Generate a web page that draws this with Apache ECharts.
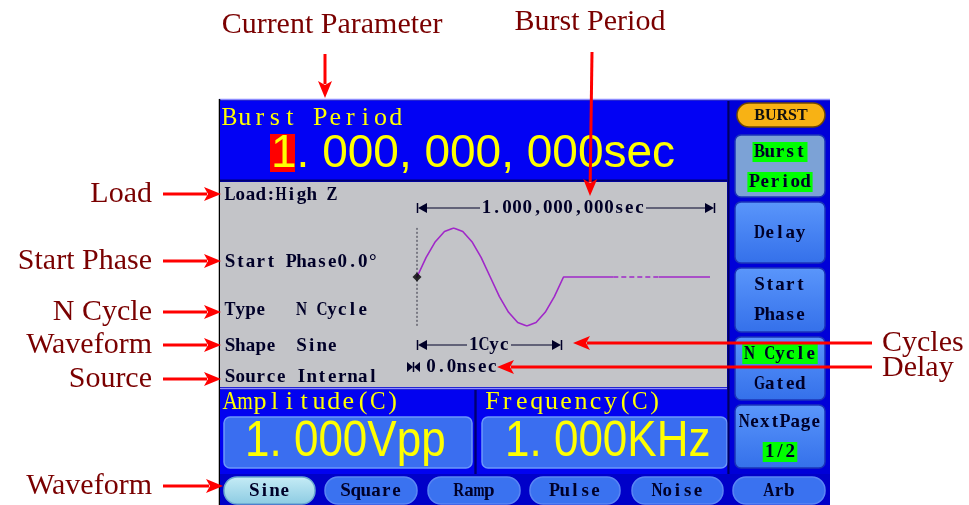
<!DOCTYPE html>
<html><head><meta charset="utf-8">
<script src="https://cdn.jsdelivr.net/npm/echarts@6/dist/echarts.min.js"></script>
<style>html,body{margin:0;padding:0;background:#fff}#c{width:969px;height:505px}</style>
</head><body><div id="c"></div><script>
// ---------- data ----------
// one burst cycle of the sine (x in cycles, y in relative amplitude)
const burstCycle = [[0,0],[0.0625,0.40],[0.125,0.72],[0.1875,0.93],[0.25,1],[0.3125,0.93],[0.375,0.72],[0.4375,0.40],
  [0.5,0],[0.5625,-0.40],[0.625,-0.72],[0.6875,-0.93],[0.75,-1],[0.8125,-0.93],[0.875,-0.72],[0.9375,-0.40],[1,0],[1.34,0]];
const idleGap = [[1.34,0],[1.65,0]];
const idleTail = [[1.65,0],[2.0,0]];
const phaseGuide = [[0,-1.16],[0,1.13]];
const startMarker = [[0,0]];

const titleTexts = ['Current Parameter','Burst Period'];
const leftCallouts = ['Load','Start Phase','N Cycle','Waveform','Source','Waveform'];
const rightCallouts = ['Cycles','Delay'];
const paramRows = ['Load:High Z','Start Phase0.0°','Type   N Cycle','Shape  Sine','Source Internal'];
const currentName = 'Burst Period';
const currentValue = '1. 000, 000, 000sec';
const periodText = '1.000,000,000sec';
const cycText = '1Cyc';
const delayText = '0.0nsec';
const ampLabel = 'Amplitude(C)', ampValue = '1. 000Vpp';
const freqLabel = 'Frequency(C)', freqValue = '1. 000KHz';
const modeLabel = 'BURST';
const sideButtons = [['Burst','Period'],['Delay'],['Start','Phase'],['N Cycle','Gated'],['NextPage','1/2']];
const waveButtons = ['Sine','Square','Ramp','Pulse','Noise','Arb'];

// ---------- drawing helpers ----------
const SERIF = '"Liberation Serif", "DejaVu Serif", serif';
const SANS = '"Liberation Sans", Arial, sans-serif';
const RED = '#ff0000', DARKRED = '#7a0000', INK = '#000028', YEL = '#ffff00';
const G = [];
const mctx = document.createElement('canvas').getContext('2d');
function rect(x,y,w,h,fill,stroke,r,lw){G.push({type:'rect',shape:{x,y,width:w,height:h,r:r||0},style:{fill,stroke:stroke||null,lineWidth:lw||1}});}
function text(x,y,t,font,fill,align,extra,scaleX){
  const st=Object.assign({text:t,font,fill,align:align||'left',verticalAlign:'middle',textAlign:align||'left',textVerticalAlign:'middle'},extra||{});
  const el={type:'text',x,y,style:st};
  if(scaleX) el.scaleX=scaleX;
  G.push(el);
}
// bitmap-like fixed pitch text: each glyph centred in its own cell
function mono(x,y,str,cw,font,fill,align,extra){
  const chars=[...str];
  const x0 = align==='center' ? x-chars.length*cw/2 : x;
  mctx.font=font;
  chars.forEach((ch,i)=>{
    if(ch===' ') return;
    const w=mctx.measureText(ch).width;
    const s=Math.min(1,(cw+0.8)/w);
    text(x0+i*cw+cw/2,y,ch,font,fill,'center',extra,s<1?s:null);
  });
  return chars.length*cw;
}
function line(x1,y1,x2,y2,stroke,lw){G.push({type:'line',shape:{x1,y1,x2,y2},style:{stroke,lineWidth:lw||1}});}
function poly(pts,fill){G.push({type:'polygon',shape:{points:pts},style:{fill}});}
function arrow(x1,y1,x2,y2){
  const dx=x2-x1,dy=y2-y1,L=Math.hypot(dx,dy),ux=dx/L,uy=dy/L,hl=17,hw=7;
  const bx=x2-ux*hl,by=y2-uy*hl;
  line(x1,y1,bx+ux*3,by+uy*3,RED,3);
  poly([[x2,y2],[bx-uy*hw,by+ux*hw],[bx+ux*4,by+uy*4],[bx+uy*hw,by-ux*hw]],RED);
}
const halo={textShadowColor:'rgba(215,205,0,0.7)',textShadowOffsetX:1,textShadowOffsetY:1,textShadowBlur:0};
const SF='bold 19px '+SERIF, CW=10.2;
const btnFill={type:'linear',x:0,y:0,x2:0,y2:1,colorStops:[{offset:0,color:'#5a96fb'},{offset:1,color:'#3470ea'}]};

// ---------- screen frame ----------
rect(219,99,611,406,'#0000c4');
line(219,99.5,830,99.5,'#8c8cff',1.5);
line(219.5,99,219.5,505,'#000000',1.5);
// top parameter panel
rect(220,101,507,79,'#0202f4');
line(220,180.5,727,180.5,'#000070',2);
mono(222,118,currentName,15.1,'26px '+SERIF,YEL);
rect(270,134,25,38,'#ff0000');
text(271,154,currentValue,'46px '+SANS,YEL);
// gray info panel
rect(220,182,507,205,'#c3c4c8');
line(220,388.5,727,388.5,'#9090ff',1.5);
const rowY=[195,262,310,346,377];
paramRows.forEach((t,i)=>mono(225,rowY[i],t,CW,SF,INK,'left',halo));
// burst period measure
const my=208;
line(417.5,203,417.5,213,INK,1.5); poly([[418,my],[427,my-5],[427,my+5]],INK);
line(427,my,480,my,INK,1); line(646,my,706,my,INK,1);
poly([[714,my],[705,my-5],[705,my+5]],INK); line(714.5,203,714.5,213,INK,1.5);
mono(563,my,periodText,CW,SF,INK,'center',halo);
// 1Cyc measure
const cy=345;
line(417.5,cy-5,417.5,cy+5,INK,1.5); poly([[418,cy],[427,cy-5],[427,cy+5]],INK);
line(427,cy,467,cy,INK,1); line(511,cy,553,cy,INK,1);
poly([[561,cy],[552,cy-5],[552,cy+5]],INK); line(561.5,cy-5,561.5,cy+5,INK,1.5);
mono(489,cy,cycText,CW,SF,INK,'center',halo);
// delay marker
const dy=367;
poly([[407,dy-5],[407,dy+5],[413,dy]],INK); line(413.5,dy-5,413.5,dy+5,INK,1.5); poly([[420,dy-5],[420,dy+5],[414,dy]],INK);
mono(426,dy,delayText,CW,SF,INK,'left',halo);
// amplitude / frequency panels
rect(220,390,254,84,'#0202f0');
rect(477,390,250,84,'#0202f0');
line(475.5,390,475.5,474,'#000070',2);
mono(223,402,ampLabel,14.75,'26px '+SERIF,YEL);
mono(485,402,freqLabel,14.75,'26px '+SERIF,YEL);
rect(224,417,248,51,'#3a6ef0','#6c98fa',6,1.5);
rect(482,417,245,51,'#3a6ef0','#6c98fa',6,1.5);
text(245,442,ampValue,'50px '+SANS,YEL,'left',null,0.88);
text(505,442,freqValue,'50px '+SANS,YEL,'left',null,0.88);
// right column
rect(729,101,101,404,'#0000d8');
line(728.5,101,728.5,475,'#000060',2);
rect(737,103,88,24,'#f8b214','#704800',12,1.5);
text(781,115.5,modeLabel,'bold 16px '+SERIF,'#101010','center');
const sb=[[135,197],[202,263],[268,332],[337,400],[405,468]];
sideButtons.forEach((lbl,i)=>{
  const [t,b]=sb[i];
  rect(735,t,90,b-t,i===0?'#7ca2d6':btnFill,'#1b34b8',6,1.5);
  const lines = lbl.length===1 ? [[lbl[0],(t+b)/2+1,false]] :
    [[lbl[0],t+17,(i===0||i===3)],[lbl[1],t+47,(i===0||i===4)]];
  lines.forEach(([s,yy,hl])=>{
    const w=[...s].length*CW;
    if(hl) rect(780-w/2-2,yy-10,w+4,20,'#00ff00');
    mono(780,yy,s,CW,SF,INK,'center');
  });
});
// waveform tabs
rect(220,474,610,31,'#0000c8');
const wb=[[224,315],[325,417],[428,520],[530,620],[632,723],[733,825]];
waveButtons.forEach((w,i)=>{
  const [l,r]=wb[i];
  const f=i===0?{type:'linear',x:0,y:0,x2:0,y2:1,colorStops:[{offset:0,color:'#c6ecf6'},{offset:1,color:'#8ccbe2'}]}:'#3a72f0';
  rect(l,477,r-l,27,f,i===0?'#6aa8d0':'#5a86f4',13,1.5);
  mono((l+r)/2,491,w,CW,SF,INK,'center');
});

// ---------- callouts ----------
text(332,25,titleTexts[0],'30px '+SERIF,DARKRED,'center');
text(590,22,titleTexts[1],'30px '+SERIF,DARKRED,'center');
arrow(325,54,325,98);
arrow(592,52,590,196);
const ly=[194,261,312,345,379,486];
leftCallouts.forEach((t,i)=>{text(152,ly[i],t,'30px '+SERIF,DARKRED,'right'); arrow(163,ly[i],i===5?223:221,ly[i]);});
const ry=[343,368];
rightCallouts.forEach((t,i)=>{text(882,ry[i],t,'30px '+SERIF,DARKRED,'left'); arrow(872,ry[i]-(i?1:0),i===0?573:497,ry[i]-(i?1:0));});

// ---------- chart ----------
const chart = echarts.init(document.getElementById('c'),null,{renderer:'canvas'});
const wave='#a028c8';
chart.setOption({
  animation:false,
  grid:{left:417,top:228,width:293,height:98},
  xAxis:{type:'value',min:0,max:2,show:false},
  yAxis:{type:'value',min:-1,max:1,show:false},
  graphic:{elements:G},
  series:[
    {type:'line',data:phaseGuide,symbol:'none',lineStyle:{color:'#303040',width:1,type:[2,2]},z:3},
    {type:'line',data:burstCycle,symbol:'none',lineStyle:{color:wave,width:1.6},z:4},
    {type:'line',data:idleGap,symbol:'none',lineStyle:{color:wave,width:1.6,type:[5,3]},z:4},
    {type:'line',data:idleTail,symbol:'none',lineStyle:{color:wave,width:1.6},z:4},
    {type:'scatter',data:startMarker,symbol:'diamond',symbolSize:9,itemStyle:{color:'#000000'},z:5}
  ]
});
</script></body></html>
